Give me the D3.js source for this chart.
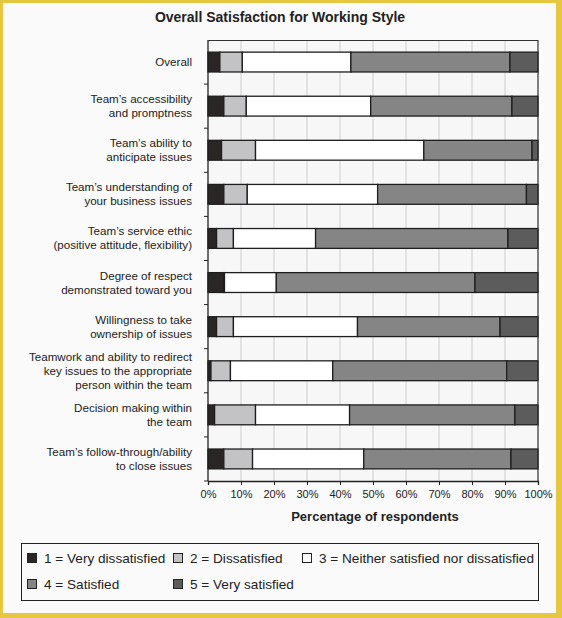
<!DOCTYPE html>
<html>
<head>
<meta charset="utf-8">
<script src="https://cdn.jsdelivr.net/npm/d3@7"></script>
<style>
  html, body { margin: 0; padding: 0; background: #e6c73f; }
  #chart { width: 562px; height: 618px; }
  text { font-family: "Liberation Sans", Arial, sans-serif; fill: #222; }
</style>
</head>
<body>
<div id="chart"></div>
<script>
// Questions, top to bottom (line breaks as in the original)
const categories = [
  ['Overall'],
  ['Team\u2019s accessibility', 'and promptness'],
  ['Team\u2019s ability to', 'anticipate issues'],
  ['Team\u2019s understanding of', 'your business issues'],
  ['Team\u2019s service ethic', '(positive attitude, flexibility)'],
  ['Degree of respect', 'demonstrated toward you'],
  ['Willingness to take', 'ownership of issues'],
  ['Teamwork and ability to redirect', 'key issues to the appropriate', 'person within the team'],
  ['Decision making within', 'the team'],
  ['Team\u2019s follow-through/ability', 'to close issues']
];

const seriesNames = [
  '1 = Very dissatisfied',
  '2 = Dissatisfied',
  '3 = Neither satisfied nor dissatisfied',
  '4 = Satisfied',
  '5 = Very satisfied'
];

// percentage of respondents per rating, one value per question
const veryDissatisfied = [3.6, 4.8, 4.1, 4.8, 2.6, 4.7, 2.6, 0.9, 2.0, 4.8];
const dissatisfied     = [6.8, 6.8, 10.3, 7.1, 5.1, 0.3, 5.1, 5.9, 12.4, 8.7];
const neither          = [32.9, 37.7, 51.0, 39.5, 24.9, 15.7, 37.6, 31.0, 28.5, 33.7];
const satisfied        = [48.2, 42.8, 32.8, 45.1, 58.3, 60.2, 43.2, 52.7, 50.1, 44.6];
const verySatisfied    = [8.5, 7.9, 1.8, 3.5, 9.1, 19.1, 11.5, 9.5, 7.0, 8.2];

const tickValues = [0, 10, 20, 30, 40, 50, 60, 70, 80, 90, 100];

const colors = ['#2a2625', '#c3c3c5', '#ffffff', '#858585', '#5c5c5c'];

const W = 562, H = 618;
const margin = { top: 40, right: 24, bottom: 137, left: 208 };

const svg = d3.select('#chart').append('svg')
  .attr('width', W)
  .attr('height', H);

// yellow frame and page
svg.append('rect')
  .attr('x', 3).attr('y', 3)
  .attr('width', W - 9).attr('height', H - 8)
  .attr('fill', '#fafafa');

const rows = categories.map((c, i) => ({
  idx: i,
  values: [veryDissatisfied[i], dissatisfied[i], neither[i], satisfied[i], verySatisfied[i]]
}));

const x = d3.scaleLinear()
  .domain([0, 100])
  .range([margin.left, W - margin.right]);

const y = d3.scaleBand()
  .domain(d3.range(categories.length))
  .range([margin.top, H - margin.bottom])
  .paddingInner(0.55)
  .paddingOuter(0.275);

// Title
svg.append('text')
  .attr('x', 280)
  .attr('y', 22)
  .attr('text-anchor', 'middle')
  .style('font-size', '14px')
  .style('font-weight', 'bold')
  .text('Overall Satisfaction for Working Style');

// Plot background
svg.append('rect')
  .attr('x', x(0)).attr('y', margin.top)
  .attr('width', x(100) - x(0))
  .attr('height', H - margin.bottom - margin.top)
  .attr('fill', '#f7f7f7');

// Gridlines
svg.append('g')
  .selectAll('line')
  .data(tickValues.slice(1, -1))
  .join('line')
  .attr('x1', d => x(d)).attr('x2', d => x(d))
  .attr('y1', margin.top).attr('y2', H - margin.bottom)
  .attr('stroke', '#cfcfcf')
  .attr('stroke-width', 1);

// Stacked bars
const stack = d3.stack().keys(d3.range(5)).value((d, k) => d.values[k]);
const layers = stack(rows);

svg.append('g')
  .selectAll('g')
  .data(layers)
  .join('g')
  .attr('fill', (d, i) => colors[i])
  .selectAll('rect')
  .data(d => d)
  .join('rect')
  .attr('x', d => x(d[0]))
  .attr('y', d => y(d.data.idx))
  .attr('width', d => x(d[1]) - x(d[0]))
  .attr('height', y.bandwidth())
  .attr('stroke', '#1e1e1e')
  .attr('stroke-width', 1.3);

// Frame top and right
svg.append('path')
  .attr('d', `M${x(0)},${margin.top + 0.5}H${x(100)}V${H - margin.bottom}`)
  .attr('fill', 'none')
  .attr('stroke', '#333')
  .attr('stroke-width', 1.2);

// Left axis: ticks at band boundaries
const boundaries = d3.range(1, categories.length + 1).map(i => margin.top + i * (H - margin.bottom - margin.top) / categories.length);
const leftAxis = svg.append('g');
leftAxis.append('line')
  .attr('x1', x(0)).attr('x2', x(0))
  .attr('y1', margin.top).attr('y2', H - margin.bottom)
  .attr('stroke', '#222').attr('stroke-width', 1.3);
leftAxis.selectAll('.tk')
  .data(boundaries)
  .join('line')
  .attr('class', 'tk')
  .attr('x1', x(0) - 4).attr('x2', x(0))
  .attr('y1', d => d).attr('y2', d => d)
  .attr('stroke', '#222');

// Category labels
const labels = svg.append('g')
  .selectAll('text')
  .data(categories)
  .join('text')
  .attr('text-anchor', 'end')
  .style('font-size', '11.6px')
  .attr('x', 192)
  .attr('y', (d, i) => y(i) + y.bandwidth() / 2 - (d.length - 1) * 7 + 4);
labels.selectAll('tspan')
  .data(d => d)
  .join('tspan')
  .attr('x', 192)
  .attr('dy', (d, i) => i === 0 ? 0 : 14)
  .text(d => d);

// Bottom axis
const xAxis = d3.axisBottom(x)
  .tickValues(tickValues)
  .tickFormat(d => d + '%')
  .tickSize(4)
  .tickPadding(5);

const gx = svg.append('g')
  .attr('transform', `translate(0,${H - margin.bottom})`)
  .call(xAxis);
gx.select('.domain').attr('stroke', '#222').attr('stroke-width', 1.3);
gx.selectAll('.tick line').attr('stroke', '#222');
gx.selectAll('.tick text')
  .style('font-size', '11px')
  .style('font-family', '"Liberation Sans", Arial, sans-serif')
  .attr('fill', '#333');

svg.append('text')
  .attr('x', 375)
  .attr('y', 521)
  .attr('text-anchor', 'middle')
  .style('font-size', '13px')
  .style('font-weight', 'bold')
  .text('Percentage of respondents');

// Legend
const legend = svg.append('g');
legend.append('rect')
  .attr('x', 21.5).attr('y', 543.5)
  .attr('width', 517).attr('height', 57)
  .attr('fill', '#fafafa')
  .attr('stroke', '#222');

const legendPos = [[27, 558], [173, 558], [302, 558], [27, 584], [173, 584]];
const items = legend.selectAll('g')
  .data(seriesNames)
  .join('g')
  .attr('transform', (d, i) => `translate(${legendPos[i][0]},${legendPos[i][1]})`);
items.append('rect')
  .attr('x', 0.5).attr('y', -4.5)
  .attr('width', 9).attr('height', 9)
  .attr('fill', (d, i) => colors[i])
  .attr('stroke', '#222');
items.append('text')
  .attr('x', 17)
  .attr('y', 5)
  .style('font-size', '13.6px')
  .text(d => d);
</script>
</body>
</html>
